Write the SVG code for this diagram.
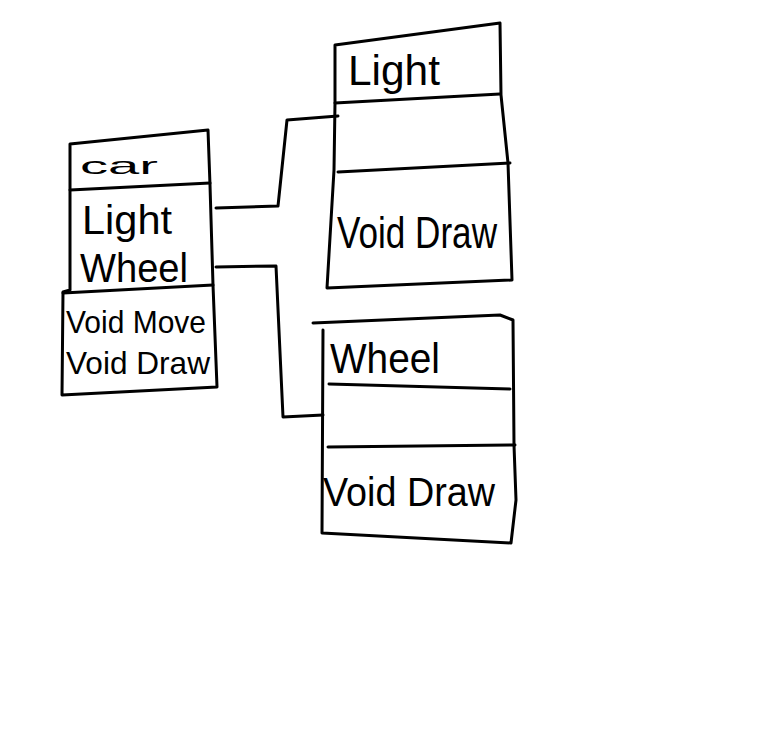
<svg xmlns="http://www.w3.org/2000/svg" width="763" height="731" viewBox="0 0 763 731">
<style>
.s{fill:none;stroke:#000;stroke-width:3;stroke-linecap:round;stroke-linejoin:round}
.t{font-family:"Liberation Sans",Arial,sans-serif;fill:#000}
</style>
<rect width="763" height="731" fill="#fff"/>
<g id="connectors">
<path class="s" d="M216,208 L278,206 L287,120 L338,116"/>
<path class="s" d="M216,267 L276,266 L283,417 L323,415"/>
</g>
<g id="car">
<path class="s" d="M70,144 L208,130 L210,185 L213,285 L217,387 L62,395 L63,292 L70,290 Z"/>
<path class="s" d="M70,190 L210,183"/>
<path class="s" d="M63,293 L213,285"/>
<text class="t" x="80" y="174" font-size="24" textLength="78" lengthAdjust="spacingAndGlyphs">car</text>
<text class="t" x="82" y="234" font-size="40" textLength="90" lengthAdjust="spacingAndGlyphs">Light</text>
<text class="t" x="80" y="282" font-size="40" textLength="108" lengthAdjust="spacingAndGlyphs">Wheel</text>
<text class="t" x="66" y="333" font-size="32" textLength="140" lengthAdjust="spacingAndGlyphs">Void Move</text>
<text class="t" x="66" y="374" font-size="32" textLength="144" lengthAdjust="spacingAndGlyphs">Void Draw</text>
</g>
<g id="light">
<path class="s" d="M335,45 L500,23 L501,95 L508,163 L512,280 L327,288 L334,170 L335,103 Z"/>
<path class="s" d="M335,103 L500,94"/>
<path class="s" d="M338,172 L510,163"/>
<text class="t" x="348" y="85" font-size="42" textLength="92" lengthAdjust="spacingAndGlyphs">Light</text>
<text class="t" x="337" y="248" font-size="44" textLength="160" lengthAdjust="spacingAndGlyphs">Void Draw</text>
</g>
<g id="wheel">
<path class="s" d="M313,323 L500,315 L513,320 L514,445 L516,500 L511,543 L322,533 L323,330"/>
<path class="s" d="M329,384 L510,389"/>
<path class="s" d="M328,447 L515,445"/>
<text class="t" x="330" y="373" font-size="42" textLength="110" lengthAdjust="spacingAndGlyphs">Wheel</text>
<text class="t" x="323" y="506" font-size="40" textLength="172" lengthAdjust="spacingAndGlyphs">Void Draw</text>
</g>
</svg>
